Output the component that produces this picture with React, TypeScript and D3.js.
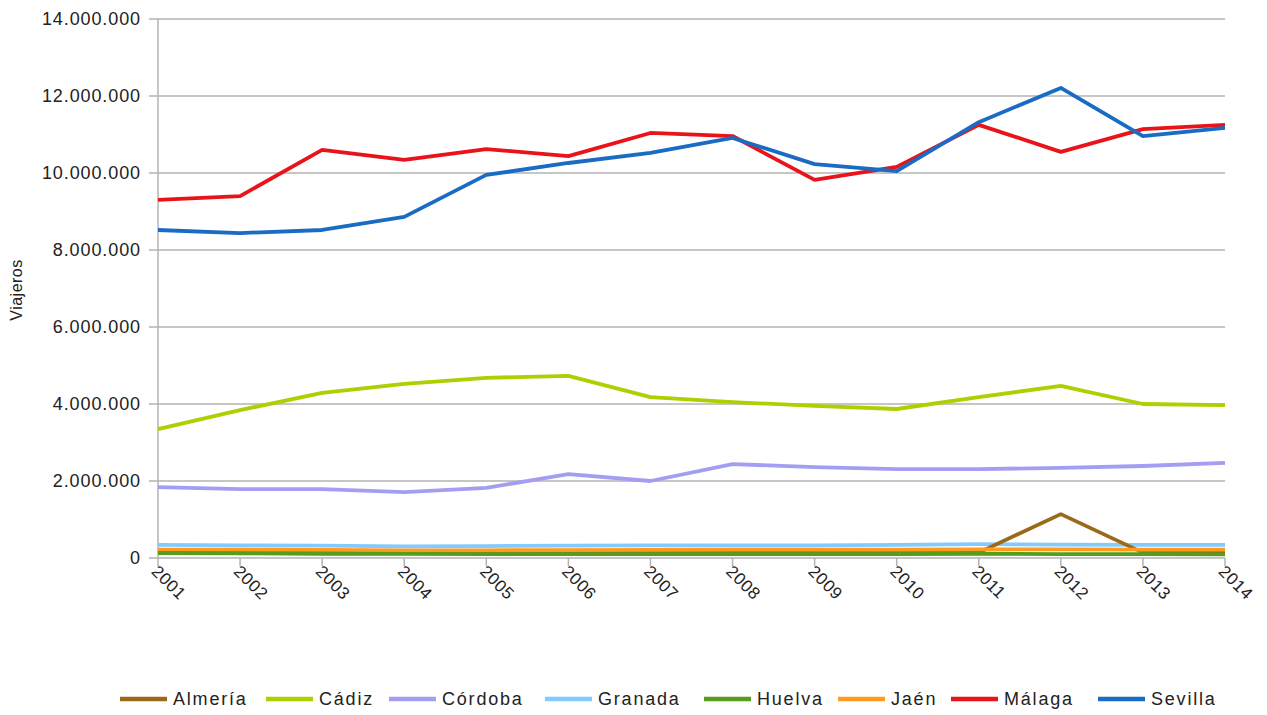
import React from "react";
import * as d3 from "d3";

const years = [2001, 2002, 2003, 2004, 2005, 2006, 2007, 2008, 2009, 2010, 2011, 2012, 2013, 2014];

const almeria = [150000, 150000, 145000, 140000, 140000, 145000, 150000, 150000, 150000, 145000, 140000, 1140000, 140000, 140000];
const cadiz = [3350000, 3840000, 4290000, 4520000, 4680000, 4730000, 4180000, 4050000, 3950000, 3870000, 4180000, 4470000, 4000000, 3970000];
const cordoba = [1840000, 1790000, 1790000, 1710000, 1820000, 2180000, 2000000, 2440000, 2360000, 2310000, 2310000, 2340000, 2390000, 2470000];
const granada = [340000, 330000, 320000, 300000, 310000, 320000, 330000, 330000, 330000, 340000, 360000, 350000, 340000, 340000];
const huelva = [130000, 120000, 110000, 105000, 100000, 100000, 100000, 100000, 100000, 100000, 110000, 100000, 100000, 95000];
const jaen = [220000, 215000, 210000, 200000, 200000, 205000, 210000, 215000, 215000, 215000, 225000, 225000, 215000, 215000];
const malaga = [9300000, 9400000, 10600000, 10340000, 10620000, 10440000, 11040000, 10960000, 9820000, 10160000, 11250000, 10550000, 11140000, 11250000];
const sevilla = [8520000, 8440000, 8520000, 8860000, 9950000, 10260000, 10520000, 10910000, 10230000, 10050000, 11320000, 12210000, 10960000, 11170000];

const seriesNames = ["Almería", "Cádiz", "Córdoba", "Granada", "Huelva", "Jaén", "Málaga", "Sevilla"];
const seriesColors = ["#9a6a1a", "#aecf00", "#a49ef2", "#83caff", "#579d1c", "#ff9a1e", "#e8141a", "#1a6bc4"];
const seriesValues = [almeria, cadiz, cordoba, granada, huelva, jaen, malaga, sevilla];
const drawOrder = [3, 0, 5, 4, 1, 2, 6, 7];

const yTicks = [0, 2000000, 4000000, 6000000, 8000000, 10000000, 12000000, 14000000];

const fmt = (v: number) => (v === 0 ? "0" : d3.format(",")(v).replace(/,/g, "."));

export default function App() {
  const W = 1267, H = 715;
  const left = 158, right = 1225, top = 19, bottom = 558;
  const x = d3.scalePoint<number>().domain(years).range([left, right]);
  const y = d3.scaleLinear().domain([0, 14000000]).range([bottom, top]);
  const line = d3.line<number>().x((_, i) => x(years[i])!).y((v) => y(v));

  const legendLine = 47;
  const legendPos = [120, 266, 389, 545, 704, 838, 951, 1098];

  return (
    <svg width={W} height={H} style={{ position: "absolute", left: 0, top: 0, background: "#fff" }}
      fontFamily="'Liberation Sans', Arial, sans-serif">
      {yTicks.map((t) => (
        <g key={t}>
          {t > 0 && <line x1={left} x2={right} y1={y(t)} y2={y(t)} stroke="#b3b3b3" strokeWidth={1.5} />}
          <line x1={left - 9} x2={left} y1={y(t)} y2={y(t)} stroke="#b3b3b3" strokeWidth={1.5} />
          <text x={141} y={y(t)} dy="0.35em" textAnchor="end" fontSize={18} letterSpacing={0.9} fill="#222">
            {fmt(t)}
          </text>
        </g>
      ))}
      <line x1={left} x2={right} y1={bottom} y2={bottom} stroke="#b3b3b3" strokeWidth={1.5} />
      <line x1={left} x2={left} y1={top} y2={bottom} stroke="#b3b3b3" strokeWidth={1.5} />
      {years.map((yr) => (
        <g key={yr}>
          <line x1={x(yr)} x2={x(yr)} y1={bottom} y2={bottom + 8} stroke="#b3b3b3" strokeWidth={1.5} />
          <text transform={`translate(${x(yr)! + 1},${bottom + 6}) rotate(45)`} fontSize={17} letterSpacing={0.6} fill="#222" dy="0.7em">
            {yr}
          </text>
        </g>
      ))}
      <text transform={`translate(22,290) rotate(-90)`} textAnchor="middle" fontSize={16} letterSpacing={0.5} fill="#222">
        Viajeros
      </text>
      {drawOrder.map((i) => (
        <path key={seriesNames[i]} d={line(seriesValues[i])!} fill="none" stroke={seriesColors[i]} strokeWidth={3.8}
          strokeLinejoin="round" />
      ))}
      {seriesNames.map((n, i) => (
        <g key={n}>
          <line x1={legendPos[i]} x2={legendPos[i] + legendLine} y1={699} y2={699} stroke={seriesColors[i]} strokeWidth={4.5} />
          <text x={legendPos[i] + legendLine + 6} y={699} dy="0.35em" fontSize={18} letterSpacing={1.8} fill="#222">{n}</text>
        </g>
      ))}
    </svg>
  );
}
